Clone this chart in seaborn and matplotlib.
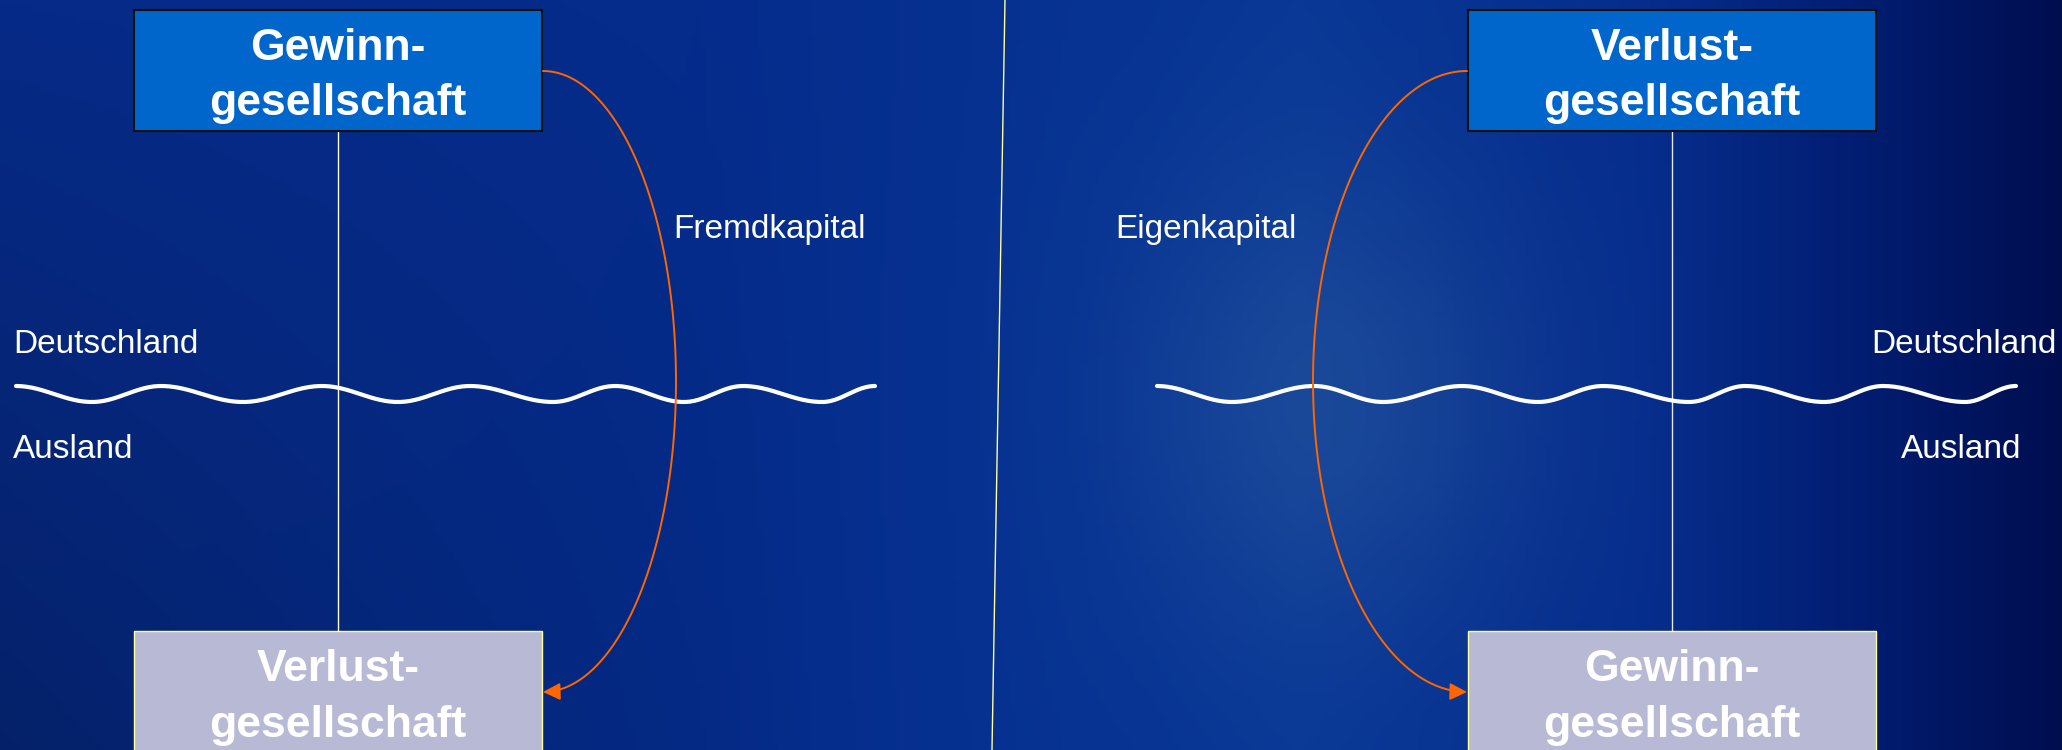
import numpy as np
import pandas as pd
import matplotlib
matplotlib.use("Agg")
import matplotlib.pyplot as plt
import seaborn as sns
from matplotlib.patches import Rectangle, FancyArrowPatch
from matplotlib.path import Path

# --- content of the diagram ---
top_companies = ["Gewinn-", "gesellschaft", "Verlust-", "gesellschaft"]
bottom_companies = ["Verlust-", "gesellschaft", "Gewinn-", "gesellschaft"]
capital_types = ["Fremdkapital", "Eigenkapital"]
country_above = "Deutschland"
country_below = "Ausland"

# --- layout (pixel coords, y down) ---
W, H = 2062, 750
box_left = [134, 1468]
box_w = 408
top_box_y = (10, 131)
bottom_box_y = (631, 770)
wave_left_x = [16, 92, 161, 243, 322, 398, 470, 553, 615, 684, 743, 822, 875]
wave_right_x = [1157, 1232, 1314, 1383, 1462, 1538, 1603, 1689, 1745, 1824, 1883, 1965, 2016]
wave_top, wave_bottom = 386, 402

sns.set_theme(style="white")
plt.rcParams['font.family'] = ['Liberation Sans', 'DejaVu Sans']

fig = plt.figure(figsize=(20.62, 7.5), dpi=100)
ax = fig.add_axes([0, 0, 1, 1])

# background gradient
xs = np.linspace(0, W, 400)
ys = np.linspace(0, H, 150)
X, Y = np.meshgrid(xs, ys)
kx = [0, 700, 1300, 1650, 1850, 2062]
r = np.interp(X, kx, [6, 5, 8, 6, 2, 0])
g = np.interp(X, kx, [42, 44, 55, 45, 30, 14])
b = np.interp(X, kx, [135, 140, 150, 140, 115, 80])
shade = 1 - 0.22 * (Y / H) * np.clip(1 - X / 900, 0, 1)
glow = np.exp(-(((X - 1330) / 200) ** 2 + ((Y - 400) / 240) ** 2))
rgb = np.stack([r * shade + 18 * glow, g * shade + 18 * glow, b * shade + 4 * glow], axis=-1) / 255
ax.imshow(np.clip(rgb, 0, 1), extent=[0, W, H, 0], aspect="auto", zorder=0)

# diagonal divider
sns.lineplot(x=[1005, 992], y=[0, H], color="#FFFF99", lw=1, sort=False, estimator=None, ax=ax, zorder=1)

# vertical connectors
for cx, col in zip([box_left[0] + box_w / 2, box_left[1] + box_w / 2], ["#FFFFCC", "#E8E8E8"]):
    sns.lineplot(x=[cx, cx], y=[top_box_y[1], bottom_box_y[0]], color=col, lw=1,
                 sort=False, estimator=None, ax=ax, zorder=2)

# waves (border line)
def wave(xe):
    px, py = [], []
    for i in range(len(xe) - 1):
        y0 = wave_top if i % 2 == 0 else wave_bottom
        y1 = wave_bottom if i % 2 == 0 else wave_top
        t = np.linspace(0, 1, 30)
        px += list(xe[i] + (xe[i + 1] - xe[i]) * t)
        py += list(y0 + (y1 - y0) * (1 - np.cos(np.pi * t)) / 2)
    return pd.DataFrame({"x": px, "y": py})

for xe in [wave_left_x, wave_right_x]:
    d = wave(xe)
    sns.lineplot(data=d, x="x", y="y", sort=False, estimator=None, color="white", lw=3, ax=ax, zorder=3)

# boxes
for i, bx in enumerate(box_left):
    ax.add_patch(Rectangle((bx, top_box_y[0]), box_w, top_box_y[1] - top_box_y[0],
                           facecolor="#0066CC", edgecolor="#111111", lw=1.5, zorder=4))
    ax.add_patch(Rectangle((bx, bottom_box_y[0]), box_w, bottom_box_y[1] - bottom_box_y[0],
                           facecolor="#B8BAD5", edgecolor="#FFFF99", lw=1, zorder=4))
    cx = bx + box_w / 2
    ax.text(cx, top_box_y[0] + 50, top_companies[2 * i], ha="center", va="baseline",
            color="white", fontsize=32, fontweight="bold", zorder=5)
    ax.text(cx, top_box_y[0] + 105, top_companies[2 * i + 1], ha="center", va="baseline",
            color="white", fontsize=32, fontweight="bold", zorder=5)
    ax.text(cx, bottom_box_y[0] + 50, bottom_companies[2 * i], ha="center", va="baseline",
            color="white", fontsize=32, fontweight="bold", zorder=5)
    ax.text(cx, bottom_box_y[0] + 106, bottom_companies[2 * i + 1], ha="center", va="baseline",
            color="white", fontsize=32, fontweight="bold", zorder=5)

# curved arrows (capital flow)
cy, b_ax = 381.5, 310.5
for x0, a, sgn in [(543, 133, 1), (1467, 154, -1)]:
    th = np.linspace(-np.pi / 2, np.pi / 2, 120)
    verts = np.column_stack([x0 + sgn * a * np.cos(th), cy + b_ax * np.sin(th)])
    arr = FancyArrowPatch(path=Path(verts), arrowstyle="-|>", mutation_scale=26,
                          color="#FF6600", lw=1.4, zorder=6)
    ax.add_patch(arr)

# labels
ax.text(673, 238, capital_types[0], ha="left", va="baseline", color="white", fontsize=24)
ax.text(1115, 238, capital_types[1], ha="left", va="baseline", color="white", fontsize=24)
ax.text(13, 353, country_above, ha="left", va="baseline", color="white", fontsize=24)
ax.text(2057, 353, country_above, ha="right", va="baseline", color="white", fontsize=24)
ax.text(13, 458, country_below, ha="left", va="baseline", color="white", fontsize=24)
ax.text(2021, 458, country_below, ha="right", va="baseline", color="white", fontsize=24)

ax.set_xlim(0, W)
ax.set_ylim(H, 0)
ax.axis("off")
if ax.get_legend():
    ax.get_legend().remove()

fig.savefig("out.png", dpi=100)
